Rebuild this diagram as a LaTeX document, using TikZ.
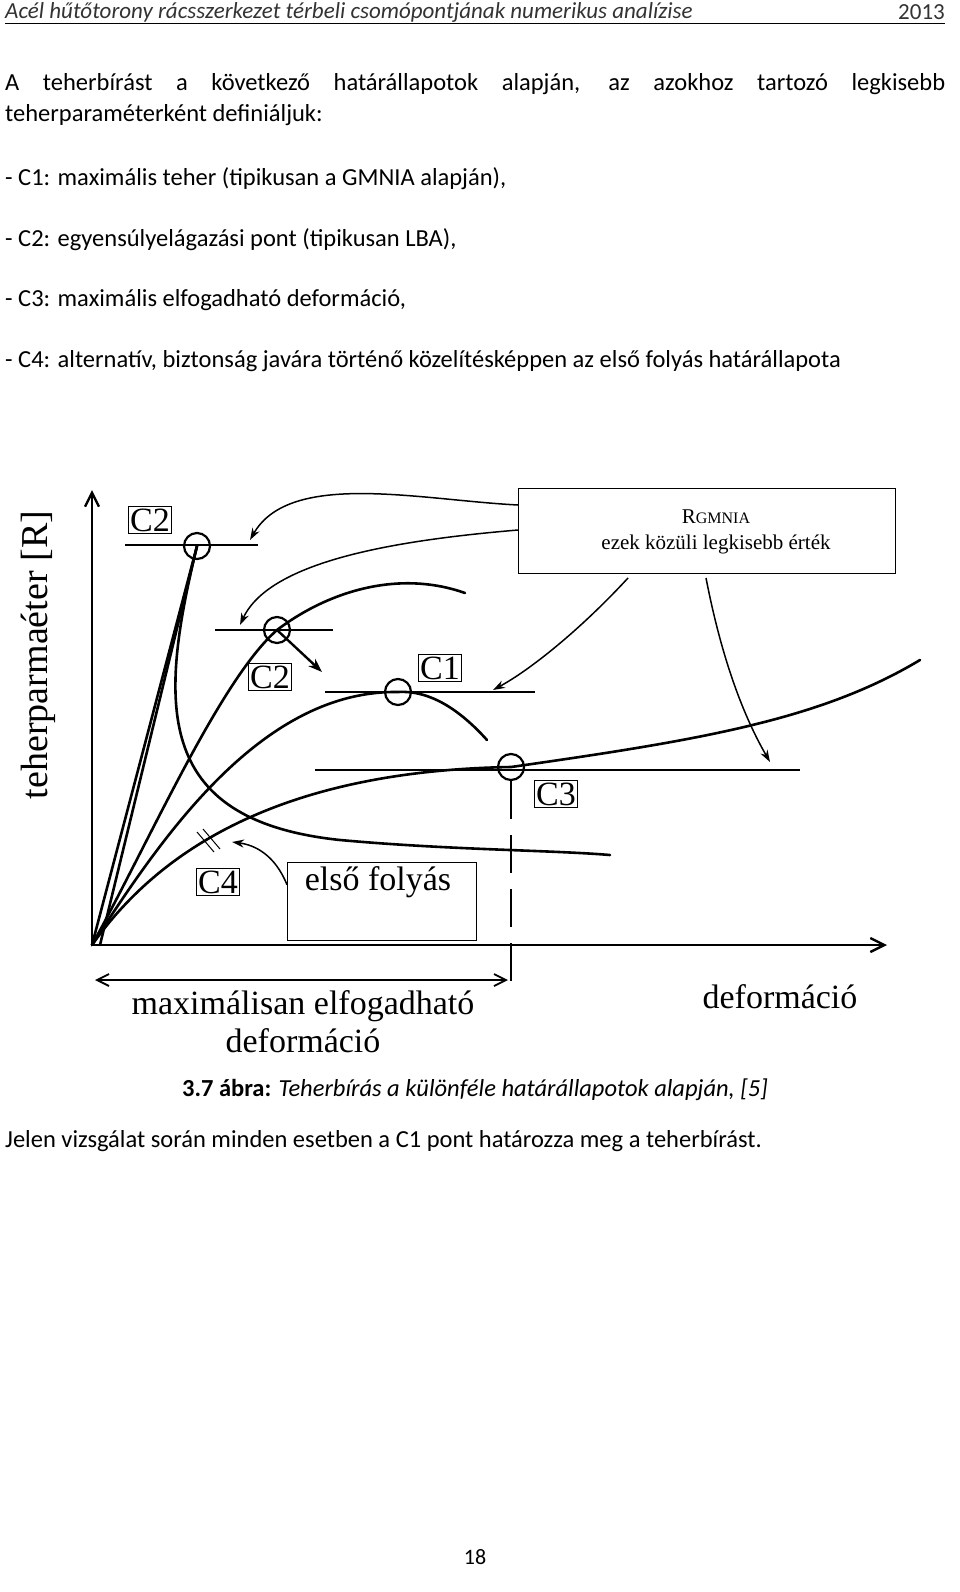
\documentclass[tikz,border=0pt]{standalone}
\usepackage{fontspec}
\setmainfont{Carlito}
\newfontfamily\tms{Liberation Serif}
\usetikzlibrary{arrows.meta}
\begin{document}
\begin{tikzpicture}[x=1pt,y=-1pt,
  body/.style={anchor=west,font=\fontsize{24.5}{30}\selectfont,inner sep=0},
  crv/.style={line width=2.6pt,line cap=round},
  hl/.style={line width=1.6pt},
  lab/.style={draw,line width=1pt,font=\tms\fontsize{34}{34}\selectfont,inner sep=2pt,fill=white},
  ring/.style={circle,draw,line width=2.2pt,minimum size=26pt,inner sep=0},
  arr/.style={line width=1.5pt,-{Stealth[length=12pt,width=8pt]}}]
\useasboundingbox (0,0) rectangle (960,1592);
\fill[white] (0,0) rectangle (960,1592);
% header
\node[anchor=west,font=\itshape\fontsize{23}{26}\selectfont,text=black!80,inner sep=0] (hdr) at (5,12) {Acél hűtőtorony rácsszerkezet térbeli csomópontjának numerikus analízise};
\node[anchor=east,font=\fontsize{23}{26}\selectfont,text=black!80,inner sep=0] (yr) at (945,12) {2013};
\draw[line width=1pt] (5,24) coordinate (r1) -- (945,24) coordinate (r2);
% text
\node[anchor=north west,text width=940pt,align=justify,font=\fontsize{24.5}{31}\selectfont,inner sep=0] (p1) at (5,73) {A teherbírást a következő határállapotok alapján, az azokhoz tartozó legkisebb teherparaméterként definiáljuk:};
\node[body] (l1) at (5,179) {- C1: maximális teher (tipikusan a GMNIA alapján),};
\node[body] (l2) at (5,240) {- C2: egyensúlyelágazási pont (tipikusan LBA),};
\node[body] (l3) at (5,300) {- C3: maximális elfogadható deformáció,};
\node[body] (l4) at (5,361) {- C4: alternatív, biztonság javára történő közelítésképpen az első folyás határállapota};
% axes
\coordinate (O) at (92,945);
\coordinate (ytop) at (92,490);
\coordinate (xend) at (887,945);
\draw[line width=2.4pt,-{Straight Barb[length=14pt,width=14pt]}] (O) -- (ytop);
\draw[line width=2.4pt,-{Straight Barb[length=14pt,width=14pt]}] (O) -- (xend);
% horizontal lines
\draw[hl] (125,545) -- (258,545);
\draw[hl] (215,630) -- (333,630);
\draw[hl] (325,692) -- (535,692);
\draw[hl] (315,770) -- (800,770);
% circles
\node[ring] (c2a) at (197,546) {};
\node[ring] (c2b) at (277,630) {};
\node[ring] (c1) at (398,692) {};
\node[ring] (c3) at (511,767) {};
% curves
\draw[crv] (O) -- (c2a.center);
\draw[crv] (100,945) -- (c2a.center);
\draw[crv] (c2a.center) .. controls (160,700) and (150,820) .. (340,840) .. controls (450,850) and (550,850) .. (610,855);
\draw[crv] (O) .. controls (150,840) and (220,680) .. (c2b.center) .. controls (330,590) and (400,570) .. (465,593);
\draw[crv] (O) .. controls (160,840) and (260,690) .. (c1.center) .. controls (430,690) and (460,710) .. (487,740);
\draw[crv] (O) .. controls (180,820) and (330,770) .. (c3.center) .. controls (700,740) and (820,720) .. (920,660);
\draw[line width=2.4pt,-{Stealth[length=14pt,width=10pt]}] (c2b.center) -- (322,672);
% tick C4
\draw[line width=1pt] (197,832) -- (214,852) (203,829) -- (220,849);
% dashed vertical
\draw[line width=2.6pt,dash pattern=on 38pt off 16pt] (c3.south) -- (511,995);
% labels
\node[lab] (t2a) at (150,520) {C2};
\node[lab] (t2b) at (270,677) {C2};
\node[lab] (t1) at (440,668) {C1};
\node[lab] (t3) at (556,794) {C3};
\node[lab] (t4) at (218,882) {C4};
\node[draw,line width=1pt,minimum width=189pt,minimum height=78pt,anchor=north west,inner sep=4pt] (ef) at (287,862) {};
\node[font=\tms\fontsize{34}{34}\selectfont] (eft) at (378,882) {első folyás};
\node[draw,line width=1pt,minimum width=377pt,minimum height=85pt,anchor=north west,inner sep=0] (rb) at (518,488) {};
\node[font=\tms\fontsize{21}{24}\selectfont,align=center] (rbt) at (716,532) {R{\fontsize{16}{16}\selectfont GMNIA}\\[2pt]ezek közüli legkisebb érték};
% arrows from box
\coordinate (a1) at (250,540);
\coordinate (a2) at (240,625);
\coordinate (a3) at (493,690);
\coordinate (a4) at (770,762);
\coordinate (a5) at (232,842);
\draw[arr] (518,505) .. controls (420,500) and (290,470) .. (a1);
\draw[arr] (518,530) .. controls (400,540) and (270,560) .. (a2);
\draw[arr] (628,578) .. controls (580,630) and (530,670) .. (a3);
\draw[arr] (706,578) .. controls (720,650) and (740,710) .. (a4);
\draw[arr] (ef.170) .. controls (275,855) and (255,845) .. (a5);
% bottom double arrow
\draw[line width=1.8pt,{Straight Barb[length=12pt,width=12pt]}-{Straight Barb[length=12pt,width=12pt]}] (95,980) coordinate (b1) -- (508,980) coordinate (b2);
\node[font=\tms\fontsize{34}{38}\selectfont,align=center] (md) at (303,1022) {maximálisan elfogadható\\deformáció};
\node[font=\tms\fontsize{34}{34}\selectfont] (dx) at (780,997) {deformáció};
\node[font=\tms\fontsize{38}{38}\selectfont,rotate=90] (yl) at (38,655) {teherparmaéter [R]};
% caption
\node[font=\fontsize{24.5}{30}\selectfont,inner sep=0] (cap) at (475,1090) {\textbf{3.7 ábra:} \textit{Teherbírás a különféle határállapotok alapján, [5]}};
\node[body] (l5) at (5,1141) {Jelen vizsgálat során minden esetben a C1 pont határozza meg a teherbírást.};
\node[font=\fontsize{22}{24}\selectfont,inner sep=0] (pg) at (475,1557) {18};
\end{tikzpicture}
\end{document}
